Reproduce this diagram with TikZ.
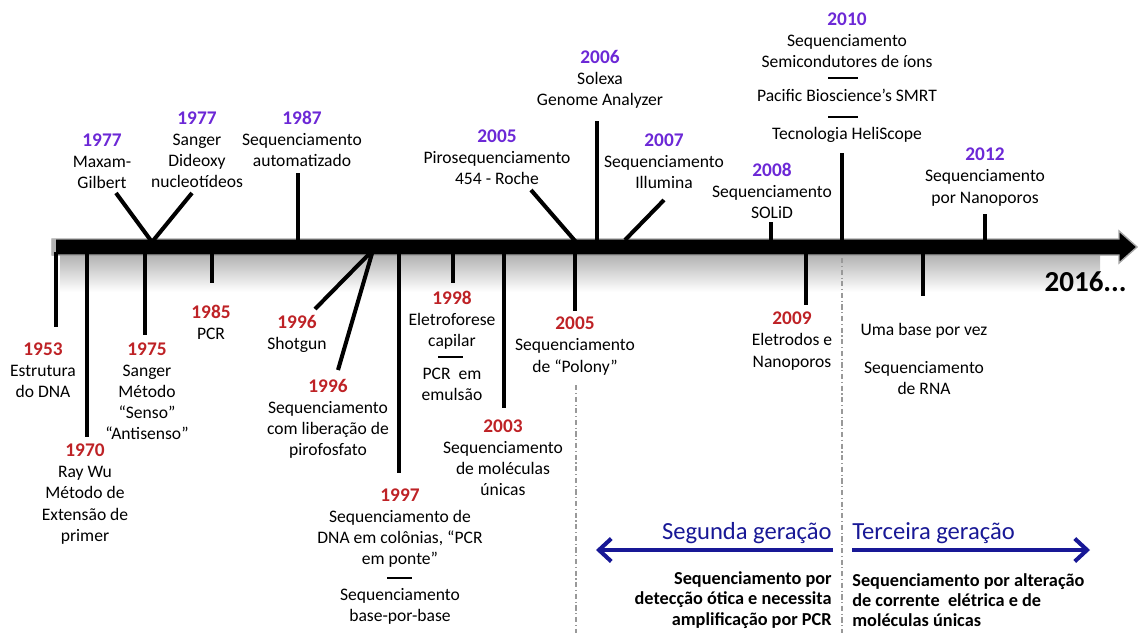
\documentclass[tikz,border=0pt]{standalone}
\usepackage{fontspec}
\setmainfont{Carlito}
\usepackage{tikz}
\usetikzlibrary{arrows.meta}
\definecolor{roxo}{RGB}{108,40,214}
\definecolor{verm}{RGB}{190,34,38}
\definecolor{azul}{RGB}{24,24,150}
\newcommand{\anoR}[1]{{\color{verm}\bfseries\fontsize{11}{12}\selectfont #1}}
\newcommand{\anoP}[1]{{\color{roxo}\bfseries\fontsize{11}{12}\selectfont #1}}
\tikzset{
	evento/.style={align=center, inner sep=0pt, font=\fontsize{10}{12}\selectfont},
	marca/.style={line width=2.3pt},
	traco/.style={line width=1.3pt},
	divisa/.style={gray!80, line width=0.6pt, dash pattern=on 3pt off 1.5pt on 0.6pt off 1.5pt},
	geracao/.style={azul, line width=2.3pt, -{Straight Barb[length=7pt,width=13pt]}},
	resumo/.style={inner sep=0pt, font=\fontsize{10.4}{11.5}\selectfont\bfseries},
}

\begin{document}
\begin{tikzpicture}[x=0.02cm, y=-0.02cm]
		\useasboundingbox (0,0) rectangle (1138,633);
		% Bar, ticks and labels:
		\shade[top color=black!30, bottom color=white] (60,255) rectangle (1100,292);
		\fill[black, draw=gray!70, line width=0.8pt] (52,239) -- (1119,239) -- (1119,231) -- (1137,247) -- (1119,263) -- (1119,255) -- (52,255) -- cycle;
		\fill[gray!60] (52,239) rectangle (56,255);

		\node[evento] (m1977) at (102,161) {\anoP{1977}\\Maxam-\\Gilbert};
		\node[evento] (s1977) at (197,150) {\anoP{1977}\\Sanger\\Dideoxy\\nucleotídeos};
		\node[evento] (a1987) at (302,139) {\anoP{1987}\\Sequenciamento\\automatizado};
		\node[evento] (p2005) at (497,157) {\anoP{2005}\\Pirosequenciamento\\454 - Roche};
		\node[evento] (s2006) at (600,79) {\anoP{2006}\\Solexa\\Genome Analyzer};
		\node[evento] (i2007) at (664,161) {\anoP{2007}\\Sequenciamento\\Illumina};
		\node[evento] (o2008) at (772,191) {\anoP{2008}\\Sequenciamento\\SOLiD};
		\node[evento] (t2010) at (847,40) {\anoP{2010}\\Sequenciamento\\Semicondutores de íons};
		\node[evento] (pac2010) at (847,95) {Pacific Bioscience’s SMRT};
		\node[evento] (hel2010) at (847,135) {Tecnologia HeliScope};
		\node[evento] (n2012) at (985,177) {\anoP{2012}\\Sequenciamento\\por Nanoporos};

		\node[evento] (d1953) at (43,370) {\anoR{1953}\\Estrutura\\do DNA};
		\node[evento] (w1970) at (85,494) {\anoR{1970}\\Ray Wu\\Método de\\Extensão de\\primer};
		\node[evento] (s1975) at (147,391) {\anoR{1975}\\Sanger\\Método\\“Senso”\\“Antisenso”};
		\node[evento] (c1985) at (211,322) {\anoR{1985}\\PCR};
		\node[evento] (g1996) at (297,334) {\anoR{1996}\\Shotgun};
		\node[evento] (y1996) at (328,419) {\anoR{1996}\\Sequenciamento\\com liberação de\\pirofosfato};
		\node[evento] (k1997) at (400,528) {\anoR{1997}\\Sequenciamento de\\DNA em colônias, “PCR\\em ponte”};
		\node[evento] (b1997) at (400,606) {Sequenciamento\\base-por-base};
		\node[evento] (e1998) at (452,320) {\anoR{1998}\\Eletroforese\\capilar};
		\node[evento] (m1998) at (452,384) {PCR\ \ em\\emulsão};
		\node[evento] (u2003) at (503,458) {\anoR{2003}\\Sequenciamento\\de moléculas\\únicas};
		\node[evento] (y2005) at (575,346) {\anoR{2005}\\Sequenciamento\\de “Polony”};
		\node[evento] (n2009) at (792,341) {\anoR{2009}\\Eletrodos e\\Nanoporos};
		\node[evento] (uma) at (924,331) {Uma base por vez};
		\node[evento] (rna) at (924,378) {Sequenciamento\\de RNA};
		\node[inner sep=0pt, anchor=east, font=\fontsize{16.5}{20}\selectfont\bfseries] (fim) at (1127,282) {2016...};

		\coordinate (v1977) at (152,242);
		\coordinate (em1977) at (116,193);
		\coordinate (es1977) at (192,193);
		\coordinate (b1987) at (298,245);
		\coordinate (e1987) at (298,173);
		\coordinate (b2005p) at (576,242);
		\coordinate (e2005p) at (531,190);
		\coordinate (b2006) at (597,245);
		\coordinate (e2006) at (597,121);
		\coordinate (b2007) at (625,240);
		\coordinate (e2007) at (664,200);
		\coordinate (b2008) at (771,245);
		\coordinate (e2008) at (771,222);
		\coordinate (b2010) at (842,251);
		\coordinate (e2010) at (842,153);
		\coordinate (b2012) at (985,245);
		\coordinate (e2012) at (985,214);
		\draw[marca] (em1977) -- (v1977) -- (es1977);
		\draw[marca] (b1987) -- (e1987);
		\draw[marca] (b2005p) -- (e2005p);
		\draw[marca] (b2006) -- (e2006);
		\draw[marca] (b2007) -- (e2007);
		\draw[marca] (b2008) -- (e2008);
		\draw[marca] (b2010) -- (e2010);
		\draw[marca] (b2012) -- (e2012);

		\coordinate (b1953) at (56,252);
		\coordinate (e1953) at (56,327);
		\coordinate (b1970) at (87,252);
		\coordinate (e1970) at (87,437);
		\coordinate (b1975) at (145,252);
		\coordinate (e1975) at (145,335);
		\coordinate (b1985) at (212,250);
		\coordinate (e1985) at (212,283);
		\coordinate (b1996) at (373,250);
		\coordinate (eg1996) at (315,309);
		\coordinate (ey1996) at (338,370);
		\coordinate (b1997) at (399,250);
		\coordinate (e1997) at (399,473);
		\coordinate (b1998) at (453,252);
		\coordinate (e1998) at (453,283);
		\coordinate (b2003) at (504,245);
		\coordinate (e2003) at (504,408);
		\coordinate (b2005) at (575,250);
		\coordinate (e2005) at (575,311);
		\coordinate (b2009) at (806,250);
		\coordinate (e2009) at (806,305);
		\coordinate (buma) at (923,250);
		\coordinate (euma) at (923,296);
		\draw[marca] (b1953) -- (e1953);
		\draw[marca] (b1970) -- (e1970);
		\draw[marca] (b1975) -- (e1975);
		\draw[marca] (b1985) -- (e1985);
		\draw[marca] (eg1996) -- (b1996) -- (ey1996);
		\draw[marca] (b1997) -- (e1997);
		\draw[marca] (b1998) -- (e1998);
		\draw[marca] (b2003) -- (e2003);
		\draw[marca] (b2005) -- (e2005);
		\draw[marca] (b2009) -- (e2009);
		\draw[marca] (buma) -- (euma);

		% short separators
		\coordinate (ra1) at (828,78);
		\coordinate (ra2) at (858,78);
		\coordinate (rb1) at (828,117);
		\coordinate (rb2) at (858,117);
		\coordinate (rc1) at (438,357);
		\coordinate (rc2) at (463,357);
		\coordinate (rd1) at (387,578);
		\coordinate (rd2) at (412,578);
		\draw[traco] (ra1) -- (ra2);
		\draw[traco] (rb1) -- (rb2);
		\draw[traco] (rc1) -- (rc2);
		\draw[traco] (rd1) -- (rd2);

		% generations
		\coordinate (d1a) at (576,385);
		\coordinate (d1b) at (576,633);
		\coordinate (d2a) at (842,258);
		\coordinate (d2b) at (842,633);
		\draw[divisa] (d1a) -- (d1b);
		\draw[divisa] (d2a) -- (d2b);
		\coordinate (g2a) at (833,550);
		\coordinate (g2b) at (596,550);
		\coordinate (g3a) at (852,550);
		\coordinate (g3b) at (1090,550);
		\draw[geracao] (g2a) -- (g2b);
		\draw[geracao] (g3a) -- (g3b);
		\node[inner sep=0pt, anchor=east, text=azul, font=\fontsize{14}{16}\selectfont] (seg) at (832,533) {Segunda geração};
		\node[inner sep=0pt, anchor=west, text=azul, font=\fontsize{14}{16}\selectfont] (ter) at (852,533) {Terceira geração};
		\node[resumo, anchor=east, align=right] (r2) at (832,600) {Sequenciamento por\\detecção ótica e necessita\\amplificação por PCR};
		\node[resumo, anchor=west, align=left] (r3) at (852,600) {Sequenciamento por alteração\\de corrente\ \ elétrica e de\\moléculas únicas};
	\end{tikzpicture}
\end{document}
